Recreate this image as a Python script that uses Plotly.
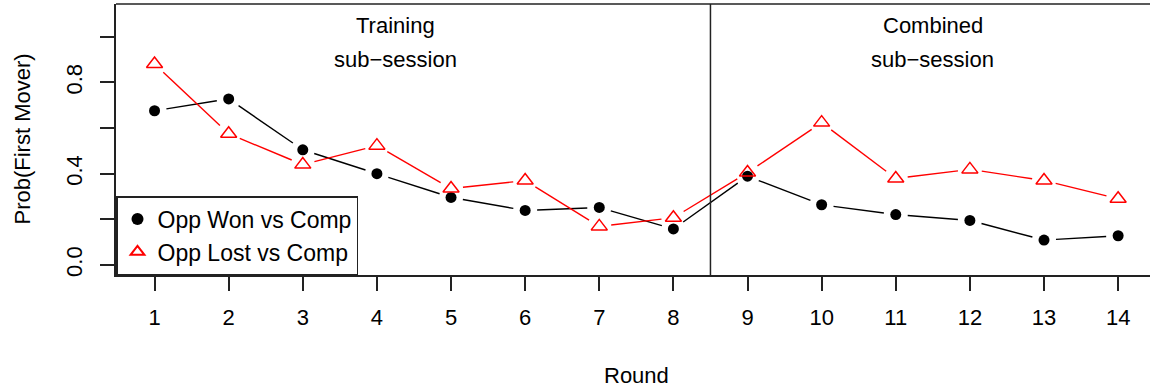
import plotly.graph_objects as go
import math

rounds = list(range(1, 15))
opp_won = [0.676, 0.728, 0.505, 0.400, 0.296, 0.239, 0.252, 0.158, 0.389, 0.264, 0.221, 0.195, 0.109, 0.128]
opp_lost = [0.881, 0.575, 0.440, 0.523, 0.335, 0.370, 0.169, 0.207, 0.405, 0.624, 0.379, 0.419, 0.370, 0.290]
series_names = ["Opp Won vs Comp", "Opp Lost vs Comp"]
y_tickvals = [0.0, 0.2, 0.4, 0.6, 0.8, 1.0]
y_ticktext = ["0.0", "", "0.4", "", "0.8", ""]

W, H = 1150, 388
ML, MR, MT, MB = 116, 0, 4, 113
XR = [0.48, 14.43]
YR = [-0.044, 1.144]
FONT = "Liberation Sans, Arial, Helvetica, sans-serif"
FS = 22

plot_w = W - ML - MR
plot_h = H - MT - MB
sx = plot_w / (XR[1] - XR[0])
sy = plot_h / (YR[1] - YR[0])


def gapped(xs, ys, gap=12.0):
    ox, oy = [], []
    for i in range(len(xs) - 1):
        x0, y0, x1, y1 = xs[i], ys[i], xs[i + 1], ys[i + 1]
        dx = (x1 - x0) * sx
        dy = (y1 - y0) * sy
        d = math.hypot(dx, dy)
        if d <= 2 * gap:
            continue
        f = gap / d
        ox += [x0 + (x1 - x0) * f, x1 - (x1 - x0) * f, None]
        oy += [y0 + (y1 - y0) * f, y1 - (y1 - y0) * f, None]
    return ox, oy


fig = go.Figure()

bx, by = gapped(rounds, opp_won)
fig.add_trace(go.Scatter(x=bx, y=by, mode="lines", line=dict(color="black", width=1.4),
                         showlegend=False, hoverinfo="skip"))
rx, ry = gapped(rounds, opp_lost)
fig.add_trace(go.Scatter(x=rx, y=ry, mode="lines", line=dict(color="#FF0000", width=1.4),
                         showlegend=False, hoverinfo="skip"))
fig.add_trace(go.Scatter(x=rounds, y=opp_won, mode="markers", name=series_names[0],
                         marker=dict(symbol="circle", size=11, color="black")))
fig.add_trace(go.Scatter(x=rounds, y=opp_lost, mode="markers", name=series_names[1],
                         marker=dict(symbol="triangle-up-open", size=14, color="#FF0000",
                                     line=dict(width=1.5, color="#FF0000"))))

# vertical divider
fig.add_shape(type="line", xref="x", yref="paper", x0=8.5, x1=8.5, y0=0, y1=1,
              line=dict(color="#222222", width=1.5))
# top border
fig.add_shape(type="line", xref="paper", yref="paper", x0=0, x1=1, y0=1, y1=1,
              line=dict(color="#222222", width=1.5))

anns = [
    dict(x=4.25, y=1.05, text="Training"),
    dict(x=4.25, y=0.90, text="sub\u2212session"),
    dict(x=11.5, y=1.05, text="Combined"),
    dict(x=11.5, y=0.90, text="sub\u2212session"),
]
for a in anns:
    fig.add_annotation(x=a["x"], y=a["y"], xref="x", yref="y", text=a["text"], showarrow=False,
                       font=dict(family=FONT, size=FS, color="black"), xanchor="center", yanchor="middle")

fig.add_annotation(x=7.5, y=0, xref="x", yref="paper", text="Round", showarrow=False,
                   font=dict(family=FONT, size=FS, color="black"), xanchor="center", yanchor="middle",
                   yshift=-100)
fig.add_annotation(x=0, y=0.5, xref="paper", yref="paper", text="Prob(First Mover)", showarrow=False,
                   font=dict(family=FONT, size=FS, color="black"), xanchor="center", yanchor="middle",
                   textangle=-90, xshift=-94)

fig.update_layout(
    width=W, height=H,
    margin=dict(l=ML, r=MR, t=MT, b=MB, pad=0),
    paper_bgcolor="white", plot_bgcolor="white",
    font=dict(family=FONT, size=FS, color="black"),
    showlegend=True,
    legend=dict(x=0, y=0, xanchor="left", yanchor="bottom", bgcolor="white",
                bordercolor="#222222", borderwidth=1.5,
                font=dict(family=FONT, size=23, color="black"),
                tracegroupgap=0, itemsizing="constant"),
    xaxis=dict(range=XR, tickmode="array", tickvals=rounds, ticktext=[str(r) for r in rounds],
               showgrid=False, zeroline=False, showline=True, linecolor="#222222", linewidth=1.5,
               ticks="outside", ticklen=14, tickwidth=1.5, tickcolor="#222222",
               ticklabelstandoff=8, tickfont=dict(family=FONT, size=FS, color="black")),
    yaxis=dict(range=YR, tickmode="array", tickvals=y_tickvals, ticktext=y_ticktext,
               showgrid=False, zeroline=False, showline=True, linecolor="#222222", linewidth=1.5,
               ticks="outside", ticklen=14, tickwidth=1.5, tickcolor="#222222", tickangle=-90,
               ticklabelstandoff=9, tickfont=dict(family=FONT, size=FS, color="black")),
)

fig.write_html("out.html")
